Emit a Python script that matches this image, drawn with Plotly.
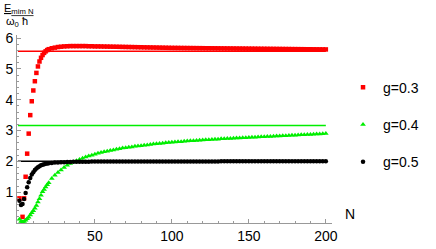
import plotly.graph_objects as go

# ---------------- data ----------------
N = list(range(1, 21)) + list(range(22, 201, 2))

g03 = [0.80, -0.10, 0.20, 0.80, 1.50, 2.25, 2.90, 3.50, 3.95, 4.30,
       4.60, 4.87, 5.08, 5.24, 5.36, 5.45, 5.52, 5.57, 5.61, 5.64,
       5.67, 5.69, 5.71, 5.72, 5.73, 5.735, 5.74, 5.74, 5.74, 5.74,
       5.74, 5.74, 5.735, 5.735, 5.73, 5.73, 5.728, 5.726, 5.724, 5.722,
       5.72, 5.718, 5.716, 5.714, 5.712, 5.71, 5.708, 5.706, 5.704, 5.702,
       5.70, 5.698, 5.696, 5.694, 5.692, 5.69, 5.688, 5.686, 5.684, 5.682,
       5.681, 5.68, 5.679, 5.678, 5.677, 5.676, 5.675, 5.674, 5.673, 5.672,
       5.671, 5.67, 5.669, 5.668, 5.667, 5.666, 5.665, 5.664, 5.663, 5.662,
       5.661, 5.66, 5.659, 5.658, 5.657, 5.656, 5.655, 5.654, 5.653, 5.652,
       5.651, 5.65, 5.649, 5.648, 5.647, 5.646, 5.645, 5.644, 5.643, 5.642,
       5.641, 5.64, 5.639, 5.638, 5.637, 5.636, 5.635, 5.634, 5.633, 5.632]

g04 = [0.12, 0.05, 0.03, 0.05, 0.09, 0.14, 0.19, 0.26, 0.33, 0.40,
       0.48, 0.57, 0.68, 0.79, 0.90, 1.01, 1.09, 1.17, 1.24, 1.31,
       1.44, 1.55, 1.64, 1.72, 1.80, 1.87, 1.93, 1.98, 2.02, 2.06,
       2.10, 2.14, 2.17, 2.20, 2.23, 2.26, 2.29, 2.31, 2.33, 2.35,
       2.37, 2.39, 2.41, 2.43, 2.44, 2.46, 2.47, 2.49, 2.50, 2.51,
       2.52, 2.53, 2.55, 2.56, 2.57, 2.58, 2.59, 2.60, 2.61, 2.62,
       2.63, 2.635, 2.64, 2.65, 2.66, 2.665, 2.67, 2.68, 2.685, 2.69,
       2.70, 2.705, 2.71, 2.715, 2.72, 2.73, 2.735, 2.74, 2.745, 2.75,
       2.755, 2.76, 2.765, 2.77, 2.775, 2.78, 2.785, 2.79, 2.795, 2.80,
       2.805, 2.81, 2.815, 2.82, 2.825, 2.83, 2.835, 2.84, 2.845, 2.85,
       2.855, 2.86, 2.865, 2.87, 2.875, 2.88, 2.885, 2.89, 2.895, 2.90]

g05 = [0.72, 0.58, 0.62, 0.78, 0.97, 1.16, 1.32, 1.46, 1.57, 1.65,
       1.72, 1.77, 1.81, 1.845, 1.87, 1.89, 1.905, 1.92, 1.93, 1.94,
       1.95, 1.96, 1.965, 1.97, 1.975, 1.978, 1.981, 1.984, 1.986, 1.988,
       1.989, 1.99, 1.991, 1.992, 1.992, 1.993, 1.993, 1.994, 1.994, 1.995,
       1.995, 1.995, 1.996, 1.996, 1.996, 1.996, 1.997, 1.997, 1.997, 1.997,
       1.997, 1.998, 1.998, 1.998, 1.998, 1.998, 1.998, 1.998, 1.998, 1.998,
       1.999, 1.999, 1.999, 1.999, 1.999, 1.999, 1.999, 1.999, 1.999, 1.999,
       1.999, 1.999, 1.999, 1.999, 1.999, 2.0, 2.0, 2.0, 2.0, 2.0,
       2.0, 2.0, 2.0, 2.0, 2.0, 2.0, 2.0, 2.0, 2.0, 2.0,
       2.0, 2.0, 2.0, 2.0, 2.0, 2.0, 2.0, 2.0, 2.0, 2.0,
       2.0, 2.0, 2.0, 2.0, 2.0, 2.0, 2.0, 2.0, 2.0, 2.0]

series_names = ["g=0.3", "g=0.4", "g=0.5"]
limits = [5.57, 3.16, 2.0]          # horizontal reference levels
line_span = [0, 200]                # N range of reference lines
x_ticks = [50, 100, 150, 200]
y_ticks = [1, 2, 3, 4, 5, 6]

colors = ["#ff0000", "#00ee00", "#000000"]
symbols = ["square", "triangle-up", "circle"]
sizes = [4.5, 5, 4.5]

FONT = "Arial, Liberation Sans, sans-serif"

fig = go.Figure()

for i, (name, ys) in enumerate(zip(series_names, [g03, g04, g05])):
    fig.add_trace(go.Scatter(
        x=line_span, y=[limits[i], limits[i]], mode="lines",
        line=dict(color=colors[i], width=1.5), showlegend=False,
        hoverinfo="skip"))

for i, (name, ys) in enumerate(zip(series_names, [g03, g04, g05])):
    fig.add_trace(go.Scatter(
        x=N, y=ys, mode="markers", name=name, legendgroup=name,
        cliponaxis=False,
        marker=dict(color=colors[i], symbol=symbols[i], size=sizes[i],
                    line=dict(width=0))))

axis_col = "#999999"
fig.update_layout(
    width=436, height=249,
    margin=dict(l=17, r=102, t=35, b=26),
    paper_bgcolor="white", plot_bgcolor="white",
    font=dict(family=FONT, size=13, color="black"),
    xaxis=dict(range=[-0.6, 204], tickvals=x_ticks, showgrid=False,
               automargin=False,
               zeroline=False, showline=True, linecolor=axis_col,
               linewidth=1, ticks="inside", ticklen=4, tickcolor=axis_col,
               tickfont=dict(size=14),
               minor=dict(dtick=10, tick0=0, ticks="inside", ticklen=2,
                          tickcolor=axis_col, showgrid=False)),
    yaxis=dict(range=[0, 6.1], tickvals=y_ticks, showgrid=False,
               automargin=False,
               zeroline=False, showline=True, linecolor=axis_col,
               linewidth=1, ticks="inside", ticklen=4, tickcolor=axis_col,
               tickfont=dict(size=14),
               minor=dict(dtick=0.2, tick0=0, ticks="inside", ticklen=2,
                          tickcolor=axis_col, showgrid=False)),
    legend=dict(x=1.035, xanchor="left", y=0.805, yanchor="top",
                tracegroupgap=16, traceorder="grouped",
                font=dict(size=14), bgcolor="rgba(0,0,0,0)"),
    annotations=[
        dict(text="<u>E<sub>mim N</sub></u>", xref="paper", yref="paper",
             x=-0.047, y=1.137, xanchor="left", yanchor="middle",
             showarrow=False, font=dict(size=11)),
        dict(text="ω<sub>0</sub> ħ", xref="paper", yref="paper",
             x=-0.04, y=1.069, xanchor="left", yanchor="middle",
             showarrow=False, font=dict(size=11)),
        dict(text="N", xref="paper", yref="paper",
             x=1.035, y=0.05, xanchor="left", yanchor="middle",
             showarrow=False, font=dict(size=14)),
    ],
)

fig.write_html(
    "out.html",
    config={"displayModeBar": False},
    post_script="document.body.style.margin='0';"
                "document.body.style.padding='0';"
                "document.body.style.overflow='hidden';")
